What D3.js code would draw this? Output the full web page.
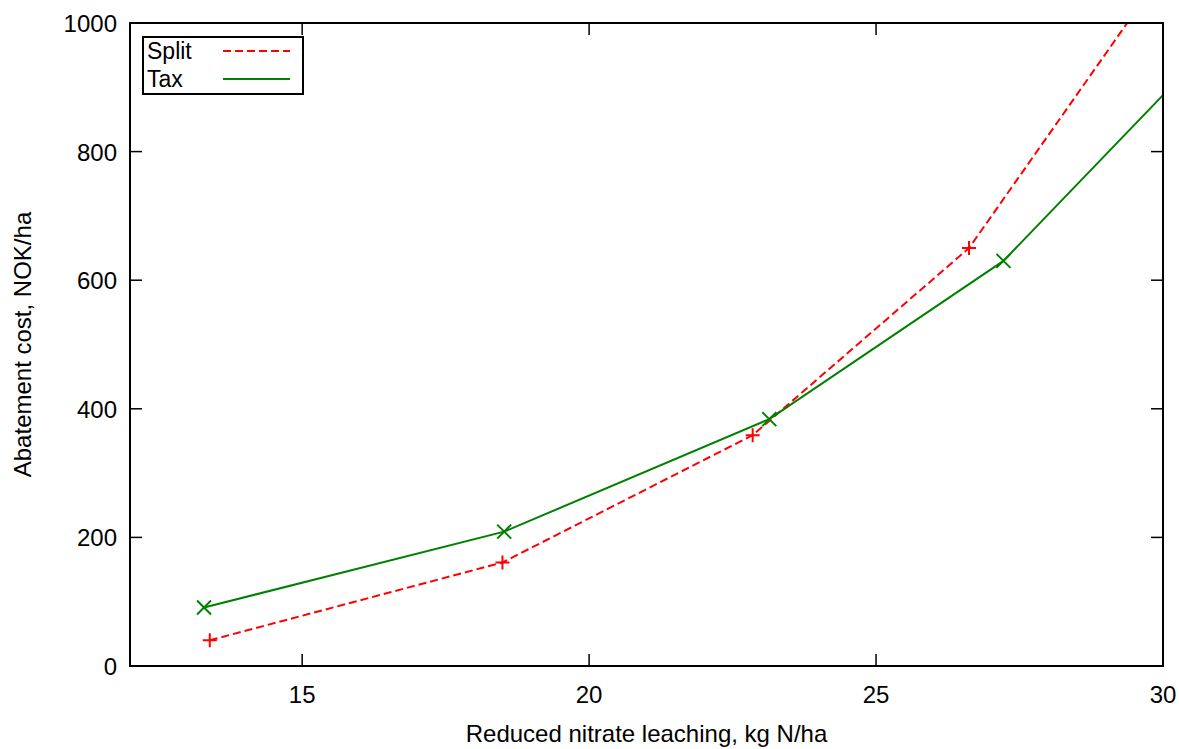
<!DOCTYPE html>
<html><head><meta charset="utf-8">
<script src="https://cdn.jsdelivr.net/npm/d3@7"></script>
<style>body{margin:0;background:#fff}svg{display:block}text{font-family:"Liberation Sans",Arial,sans-serif;fill:#000}</style>
</head><body>
<script>
const splitX = [13.39, 18.49, 22.85, 26.62, 30.4];
const splitY = [40, 161, 359, 650, 1130];
const taxX = [13.29, 18.52, 23.14, 27.22, 30.8];
const taxY = [91, 209, 384, 630, 962];
const xTicks = [15, 20, 25, 30];
const yTicks = [0, 200, 400, 600, 800, 1000];
const seriesNames = ["Split", "Tax"];

const W = 1179, H = 749;
const m = {l:130, r:1163, t:23, b:666};
const svg = d3.select("body").append("svg").attr("width", W).attr("height", H);
const x = d3.scaleLinear().domain([12, 30]).range([m.l, m.r]);
const y = d3.scaleLinear().domain([0, 1000]).range([m.b, m.t]);
const fs = 24;

svg.append("clipPath").attr("id","clip").append("rect")
  .attr("x", m.l).attr("y", m.t).attr("width", m.r-m.l).attr("height", m.b-m.t);

// ticks (inward, mirrored)
const tk = 12;
const g = svg.append("g").attr("stroke","#000").attr("stroke-width",1.5);
xTicks.forEach(v => {
  g.append("line").attr("x1",x(v)).attr("x2",x(v)).attr("y1",m.b).attr("y2",m.b-tk);
  g.append("line").attr("x1",x(v)).attr("x2",x(v)).attr("y1",m.t).attr("y2",m.t+tk);
});
yTicks.forEach(v => {
  g.append("line").attr("x1",m.l).attr("x2",m.l+tk).attr("y1",y(v)).attr("y2",y(v));
  g.append("line").attr("x1",m.r).attr("x2",m.r-tk).attr("y1",y(v)).attr("y2",y(v));
});
xTicks.forEach(v => svg.append("text").attr("x", x(v)).attr("y", m.b+37)
  .attr("text-anchor","middle").attr("font-size",fs).text(v));
yTicks.forEach(v => svg.append("text").attr("x", m.l-13).attr("y", y(v)+9)
  .attr("text-anchor","end").attr("font-size",fs).text(v));

svg.append("text").attr("x", (m.l+m.r)/2).attr("y", 742).attr("text-anchor","middle")
  .attr("font-size",fs).text("Reduced nitrate leaching, kg N/ha");
svg.append("text").attr("transform", `translate(31,${(m.t+m.b)/2}) rotate(-90)`)
  .attr("text-anchor","middle").attr("font-size",fs).text("Abatement cost, NOK/ha");

const line = d3.line().x(d=>x(d[0])).y(d=>y(d[1]));
const split = d3.zip(splitX, splitY), tax = d3.zip(taxX, taxY);
const pg = svg.append("g").attr("clip-path","url(#clip)");
pg.append("path").datum(split).attr("d", line).attr("fill","none")
  .attr("stroke","#ff0000").attr("stroke-width",2).attr("stroke-dasharray","8,4");
pg.append("path").datum(tax).attr("d", line).attr("fill","none")
  .attr("stroke","#008000").attr("stroke-width",2);
const s = 7;
split.forEach(d => {
  const cx = x(d[0]), cy = y(d[1]);
  pg.append("path").attr("d", `M${cx-s},${cy}H${cx+s}M${cx},${cy-s}V${cy+s}`)
    .attr("stroke","#ff0000").attr("stroke-width",2);
});
tax.forEach(d => {
  const cx = x(d[0]), cy = y(d[1]);
  pg.append("path").attr("d", `M${cx-s},${cy-s}L${cx+s},${cy+s}M${cx-s},${cy+s}L${cx+s},${cy-s}`)
    .attr("stroke","#008000").attr("stroke-width",2);
});

// frame
svg.append("rect").attr("x", m.l).attr("y", m.t).attr("width", m.r-m.l).attr("height", m.b-m.t)
  .attr("fill","none").attr("stroke","#000").attr("stroke-width",2);

// legend
const lg = svg.append("g");
lg.append("rect").attr("x",143).attr("y",37).attr("width",160).attr("height",57)
  .attr("fill","#fff").attr("stroke","#000").attr("stroke-width",2);
const colors = ["#ff0000", "#008000"];
seriesNames.forEach((n,i) => {
  const yy = 51 + i*28;
  lg.append("text").attr("x",147).attr("y",yy+8).attr("font-size",23).text(n);
  lg.append("line").attr("x1",223).attr("x2",290).attr("y1",yy).attr("y2",yy)
    .attr("stroke",colors[i]).attr("stroke-width",2)
    .attr("stroke-dasharray", i===0 ? "8,4" : null);
});
</script>
</body></html>
